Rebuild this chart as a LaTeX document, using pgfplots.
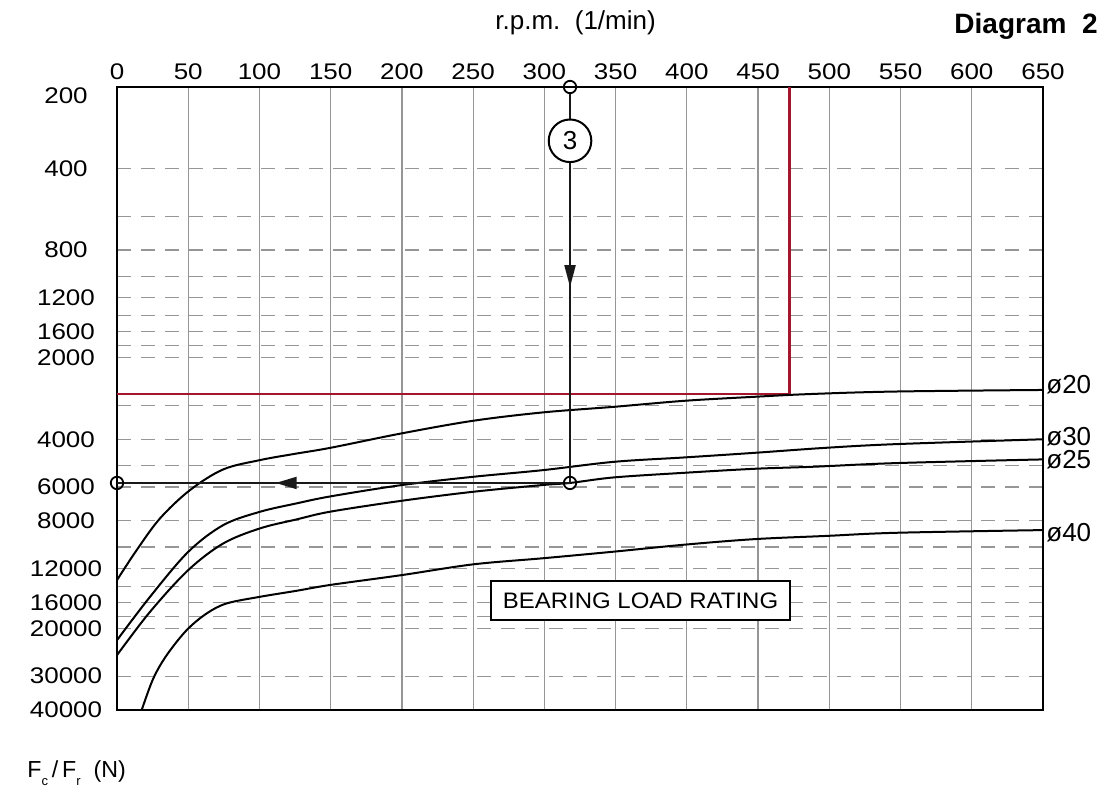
\documentclass[border=0pt]{standalone}
\usepackage{fontspec}
\setmainfont{Liberation Sans}
\newfontfamily\tickfont{Liberation Sans}[FakeStretch=1.15]
\newfontfamily\boxfont{Liberation Sans}[FakeStretch=1.07]
\usepackage{pgfplots}
\pgfplotsset{compat=1.18}
\usetikzlibrary{arrows.meta}
\definecolor{redline}{RGB}{165,22,45}
\definecolor{gridc}{RGB}{150,150,150}
\definecolor{dashc}{RGB}{150,150,150}
\begin{document}
\begin{tikzpicture}
\useasboundingbox (-58.5pt,-38.5pt) rectangle (495pt,355pt);
\begin{axis}[
  at={(0pt,0pt)}, anchor=south west,
  scale only axis, width=463pt, height=311.5pt,
  xmin=0, xmax=650, ymin=200, ymax=40000,
  ymode=log, y dir=reverse,
  xtick={0,50,...,650},
  xticklabels={0,50,100,150,200,250,300,350,400,450,500,550,600,650},
  xticklabel pos=right,
  xmajorgrids, ymajorgrids,
  x grid style={gridc, line width=0.6pt},
  y grid style={dashc, line width=0.6pt, dash pattern=on 7pt off 5pt},
  ytick={400,600,800,1000,1200,1400,1600,1800,2000,3000,4000,5000,6000,8000,10000,12000,14000,16000,18000,20000,30000,40000},
  yticklabels={400,,800,,1200,,1600,,2000,,4000,,6000,8000,,12000,,16000,,20000,30000,40000},
  extra y ticks={200}, extra y tick labels={200},
  extra y tick style={grid=none, yticklabel style={yshift=-4.5pt}},
  major tick length=0pt, minor tick num=0,
  tick style={draw=none},
  tick label style={font=\tickfont\fontsize{11.3}{13}\selectfont},
  /pgf/number format/assume math mode=true,
  yticklabel style={anchor=center, xshift=-25.5pt},
  xticklabel style={anchor=center, yshift=7.5pt},
  axis line style={line width=1.2pt},
]
% red limit lines
\addplot[redline, line width=1.3pt] coordinates {(0,2723) (472,2723) (472,200)};
% phi 20
\addplot[black, line width=1pt, smooth, tension=0.55] coordinates {
(0,13250) (13.8,10270) (30.2,7840) (51.2,6165) (74.6,5168) (100.4,4775) (123.8,4537) (150,4300) (199.8,3805) (250,3418) (299.3,3182) (349,3035) (398.7,2883) (447.8,2787) (486.5,2723) (547,2665) (650,2630)};
% phi 30
\addplot[black, line width=1pt, smooth, tension=0.55] coordinates {
(0,22090) (23.2,15270) (50,10420) (74.6,8300) (100.4,7410) (126.1,6900) (150,6500) (199.8,5906) (250,5504) (299.3,5199) (349,4845) (398.7,4667) (447.8,4488) (498,4300) (547.3,4168) (650,4000)};
% phi 25
\addplot[black, line width=1pt, smooth, tension=0.55] coordinates {
(0,25080) (23.2,17350) (50,12170) (74.6,9700) (100.4,8535) (126.1,7908) (150,7400) (199.8,6750) (250,6252) (299.3,5900) (318,5800) (349,5532) (398.7,5318) (447.8,5141) (490,5050) (547.3,4898) (650,4747)};
% phi 40
\addplot[black, line width=1pt, smooth, tension=0.55] coordinates {
(15.5,42500) (17.3,40000) (25.5,30580) (34.9,25080) (48.9,20280) (63,17590) (77,16160) (100.4,15270) (126.1,14510) (150,13800) (199.8,12700) (250,11590) (299.3,11000) (349,10400) (398.7,9800) (447.8,9350) (498,9100) (547.3,8860) (650,8660)};
% example path
\addplot[black!90, line width=1pt, -{Triangle[length=11pt,width=5.5pt]}] coordinates {(318,210) (318,1097)};
\addplot[black!90, line width=1pt] coordinates {(318,1000) (318,5800)};
\addplot[black!90, line width=1pt, -{Triangle[length=10.5pt,width=6pt]}] coordinates {(318,5800) (111.4,5800)};
\addplot[black!90, line width=1pt] coordinates {(120,5800) (0,5800)};
\addplot[only marks, mark=o, mark size=3.1pt, mark options={line width=0.9pt, black}] coordinates {(318,200) (318,5800) (0,5800)};
\node[circle, draw, line width=1pt, fill=white, minimum size=21.3pt, inner sep=0pt, font=\fontsize{13}{14}\selectfont] at (axis cs:318,316) {3};
\node[draw, line width=1.1pt, fill=white, minimum width=149.5pt, minimum height=19.5pt, inner sep=0pt, font=\boxfont\fontsize{11.2}{12}\selectfont] at (axis cs:367.5,15770) {BEARING LOAD RATING};
\coordinate (l20) at (axis cs:650,2522);
\coordinate (l30) at (axis cs:650,3926);
\coordinate (l25) at (axis cs:650,4775);
\coordinate (l40) at (axis cs:650,8885);
\end{axis}
\node[anchor=west, inner sep=1.5pt, font=\fontsize{13}{14}\selectfont] at (l20) {ø20};
\node[anchor=west, inner sep=1.5pt, font=\fontsize{13}{14}\selectfont] at (l30) {ø30};
\node[anchor=west, inner sep=1.5pt, font=\fontsize{13}{14}\selectfont] at (l25) {ø25};
\node[anchor=west, inner sep=1.5pt, font=\fontsize{13}{14}\selectfont] at (l40) {ø40};
\node[anchor=base west, inner sep=0pt, font=\fontsize{13}{15}\selectfont] at (189pt,340pt) {r.p.m.\ \ (1/min)};
\node[anchor=base east, inner sep=0pt, font=\bfseries\fontsize{14}{16}\selectfont] at (490.5pt,338pt) {Diagram\ \ 2};
\node[anchor=base west, inner sep=0pt, font=\fontsize{11.6}{13}\selectfont] at (-45pt,-33.5pt) {F\raisebox{-4pt}{\fontsize{6.5}{7}\selectfont c}\,/\,F\raisebox{-4pt}{\fontsize{6.5}{7}\selectfont r}\ \ (N)};
\end{tikzpicture}
\end{document}
